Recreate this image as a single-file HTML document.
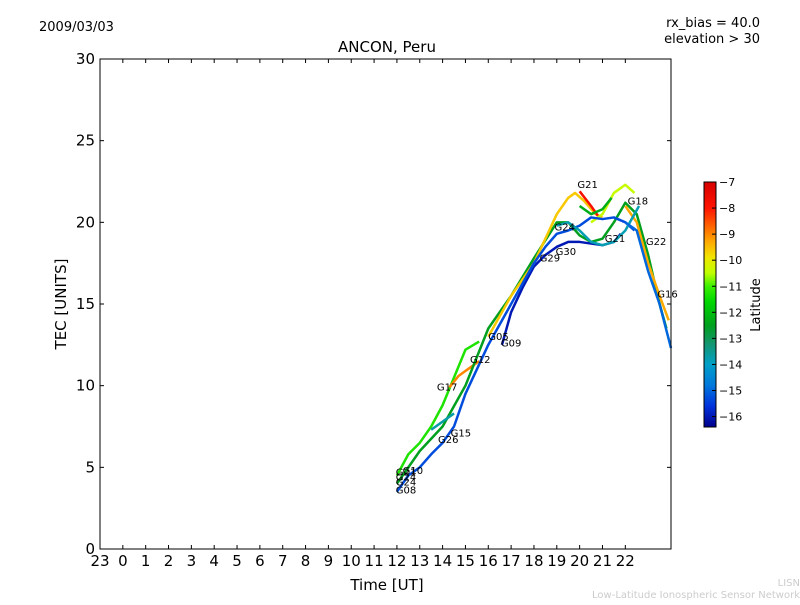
<!DOCTYPE html>
<html><head><meta charset="utf-8"><style>
body{margin:0;background:#fff;width:800px;height:600px;overflow:hidden}
svg text{font-family:"DejaVu Sans","Liberation Sans",sans-serif}
</style></head><body>
<svg id="chart" width="800" height="600" viewBox="0 0 800 600" xmlns="http://www.w3.org/2000/svg">
<defs>
<linearGradient id="cmap" x1="0" y1="0" x2="0" y2="1"></linearGradient>
</defs>
<rect width="800" height="600" fill="#fff"/>
<text x="39" y="31" font-size="13">2009/03/03</text>
<text x="760" y="27" font-size="13" text-anchor="end">rx_bias = 40.0</text>
<text x="760" y="43" font-size="13" text-anchor="end">elevation &gt; 30</text>
<text x="387" y="52" font-size="15" text-anchor="middle">ANCON, Peru</text>
<text transform="translate(66,304) rotate(-90)" font-size="15" text-anchor="middle">TEC [UNITS]</text>
<text x="387" y="590" font-size="15" text-anchor="middle">Time [UT]</text>
<text x="800" y="586" font-size="10" fill="#ccc" text-anchor="end">LISN</text>
<text x="800" y="598" font-size="10" fill="#ccc" text-anchor="end">Low-Latitude Ionospheric Sensor Network</text>
<g id="plot"></g>
<g id="cbar">
<rect x="704" y="182" width="12" height="245" fill="url(#cmap)" stroke="#000" stroke-width="1"/>
</g>
<text transform="translate(760,305) rotate(-90)" font-size="13" text-anchor="middle">Latitude</text>
</svg>
<script>
const xTicks=[-1,0,1,2,3,4,5,6,7,8,9,10,11,12,13,14,15,16,17,18,19,20,21,22];
const yTicks=[0,5,10,15,20,25,30];
const cbTicks=[-7,-8,-9,-10,-11,-12,-13,-14,-15,-16];
const seriesLat=[-11.3,-9,-12.5,-16,-9.6,-7.8,-10.4,-9.3,-15.3,-13.7,-13.8,-15,-12.3];
const seriesData=[
[[12,4.5],[12.5,5.8],[13,6.5],[13.5,7.5],[14,8.8],[14.5,10.5],[15,12.2],[15.6,12.7]],
[[14.3,9.9],[14.7,10.6],[15.2,11.1],[15.6,11.5]],
[[12,4],[13,6],[14,7.5],[15,10],[16,13.5],[17,15.5],[18,17.8],[19,20],[19.5,20],[20,19.2],[20.5,18.8],[21,19],[21.5,20],[22,21.2],[22.5,20.5],[23,18],[23.5,15],[23.8,13.5]],
[[16.6,12.5],[17,14.5],[17.5,16],[18,17.3],[18.5,18],[19,18.5],[19.5,18.8],[20,18.8],[20.5,18.7],[21,18.6],[21.5,18.8],[21.8,19.3]],
[[16,13],[17,15.5],[18,17.5],[18.5,19],[19,20.5],[19.5,21.5],[19.8,21.8],[20.2,21.3],[20.7,20.5],[21,20.3]],
[[20,21.9],[20.5,21],[20.8,20.4]],
[[20.5,20],[21,20.5],[21.5,21.8],[22,22.3],[22.4,21.8]],
[[22,21],[22.5,20],[23,17.5],[23.5,15.5],[23.9,14]],
[[12,3.5],[12.5,4.5],[13,5],[13.5,5.8],[14,6.5],[14.5,7.5],[15,9.5],[15.5,11],[16,12.5],[17,15],[18,17.5],[18.5,18.5],[19,19.3],[19.5,19.5],[20,19.8],[20.5,20.3],[21,20.2],[21.5,20.3],[22,20],[22.4,19.5]],
[[13.5,7.3],[14,7.8],[14.5,8.3]],
[[19,19.8],[19.5,20],[20,19.5],[20.5,18.8],[21,18.6],[21.5,18.8],[22,19.5],[22.4,20.5],[22.6,21]],
[[22,20],[22.5,19.5],[23,17],[23.5,15],[24,12.3]],
[[20,21],[20.5,20.5],[21,20.8],[21.4,21.5]]
];
const labelNames=["G21","G18","G24","G22","G21","G30","G29","G16","G05","G09","G12","G17","G15","G26","G10","G21","G24","G24","G08"];
const labelX=[19.9,22.1,18.9,22.9,21.1,18.95,18.25,23.4,16,16.55,15.2,13.75,14.35,13.8,12.25,11.95,11.95,11.95,11.95];
const labelY=[22.1,21.1,19.5,18.6,18.8,18,17.6,15.4,12.8,12.4,11.4,9.7,6.9,6.5,4.6,4.5,4.2,3.9,3.4];
const X0=100,X1=671,Y0=549,Y1=59;
const xs=h=>X0+(h+1)/25*(X1-X0);
const ys=v=>Y0-v/30*(Y0-Y1);
const cs=l=>182+(-7-l)/9.4*245;
const NS="http://www.w3.org/2000/svg";
function mk(t,a,p){const e=document.createElementNS(NS,t);for(const k in a)e.setAttribute(k,a[k]);p.appendChild(e);return e;}
const cmLat=[-7,-8,-8.7,-9.3,-9.9,-10.5,-11,-11.6,-12.5,-13.2,-14,-14.8,-15.6,-16.4];
const cmCol=[[215,0,0],[255,20,0],[255,100,0],[255,170,0],[240,230,0],[190,255,0],[60,240,0],[0,215,0],[0,160,30],[20,150,110],[0,160,200],[0,120,220],[0,50,220],[0,0,140]];
function cmap(l){
 if(l>=cmLat[0])return `rgb(${cmCol[0]})`;
 for(let i=1;i<cmLat.length;i++){if(l>=cmLat[i]){const t=(cmLat[i-1]-l)/(cmLat[i-1]-cmLat[i]);const c=cmCol[i-1].map((v,k)=>Math.round(v+(cmCol[i][k]-v)*t));return `rgb(${c})`;}}
 return `rgb(${cmCol[cmCol.length-1]})`;
}
const grad=document.getElementById('cmap');
cmLat.forEach((l,i)=>{mk('stop',{offset:Math.min(1,(-7-l)/9.4),'stop-color':`rgb(${cmCol[i]})`},grad);});
const plot=document.getElementById('plot');
seriesData.forEach((s,i)=>{
 const p=mk('polyline',{points:s.map(d=>xs(d[0])+','+ys(d[1])).join(' '),fill:'none',stroke:cmap(seriesLat[i]),'stroke-width':2.5,'stroke-linejoin':'round'},plot);
 
 
});
labelNames.forEach((n,i)=>{
 const t=mk('text',{x:xs(labelX[i]),y:ys(labelY[i]),'font-size':10},plot);t.textContent=n;
 
 
});
const ax=mk('rect',{x:X0,y:Y1,width:X1-X0,height:Y0-Y1,fill:'none',stroke:'#000','stroke-width':1},plot);


xTicks.forEach(h=>{
 const x=xs(h);
 mk('line',{x1:x,x2:x,y1:Y0,y2:Y0-4,stroke:'#000'},plot);mk('line',{x1:x,x2:x,y1:Y1,y2:Y1+4,stroke:'#000'},plot);
 const t=mk('text',{x:x,y:Y0+17,'font-size':15,'text-anchor':'middle'},plot);t.textContent=h<0?h+24:h;
 
 
});
yTicks.forEach(v=>{
 const y=ys(v);
 mk('line',{x1:X0,x2:X0+4,y1:y,y2:y,stroke:'#000'},plot);mk('line',{x1:X1,x2:X1-4,y1:y,y2:y,stroke:'#000'},plot);
 const t=mk('text',{x:X0-5,y:y+5,'font-size':15,'text-anchor':'end'},plot);t.textContent=v;
 
 
});
const cb=document.getElementById('cbar');
cbTicks.forEach(l=>{
 const y=cs(l);
 mk('line',{x1:712,x2:716,y1:y,y2:y,stroke:'#000'},cb);
 const t=mk('text',{x:719,y:y+4,'font-size':11},cb);t.textContent='\u2212'+(-l);
 
 
});
</script>
</body></html>
